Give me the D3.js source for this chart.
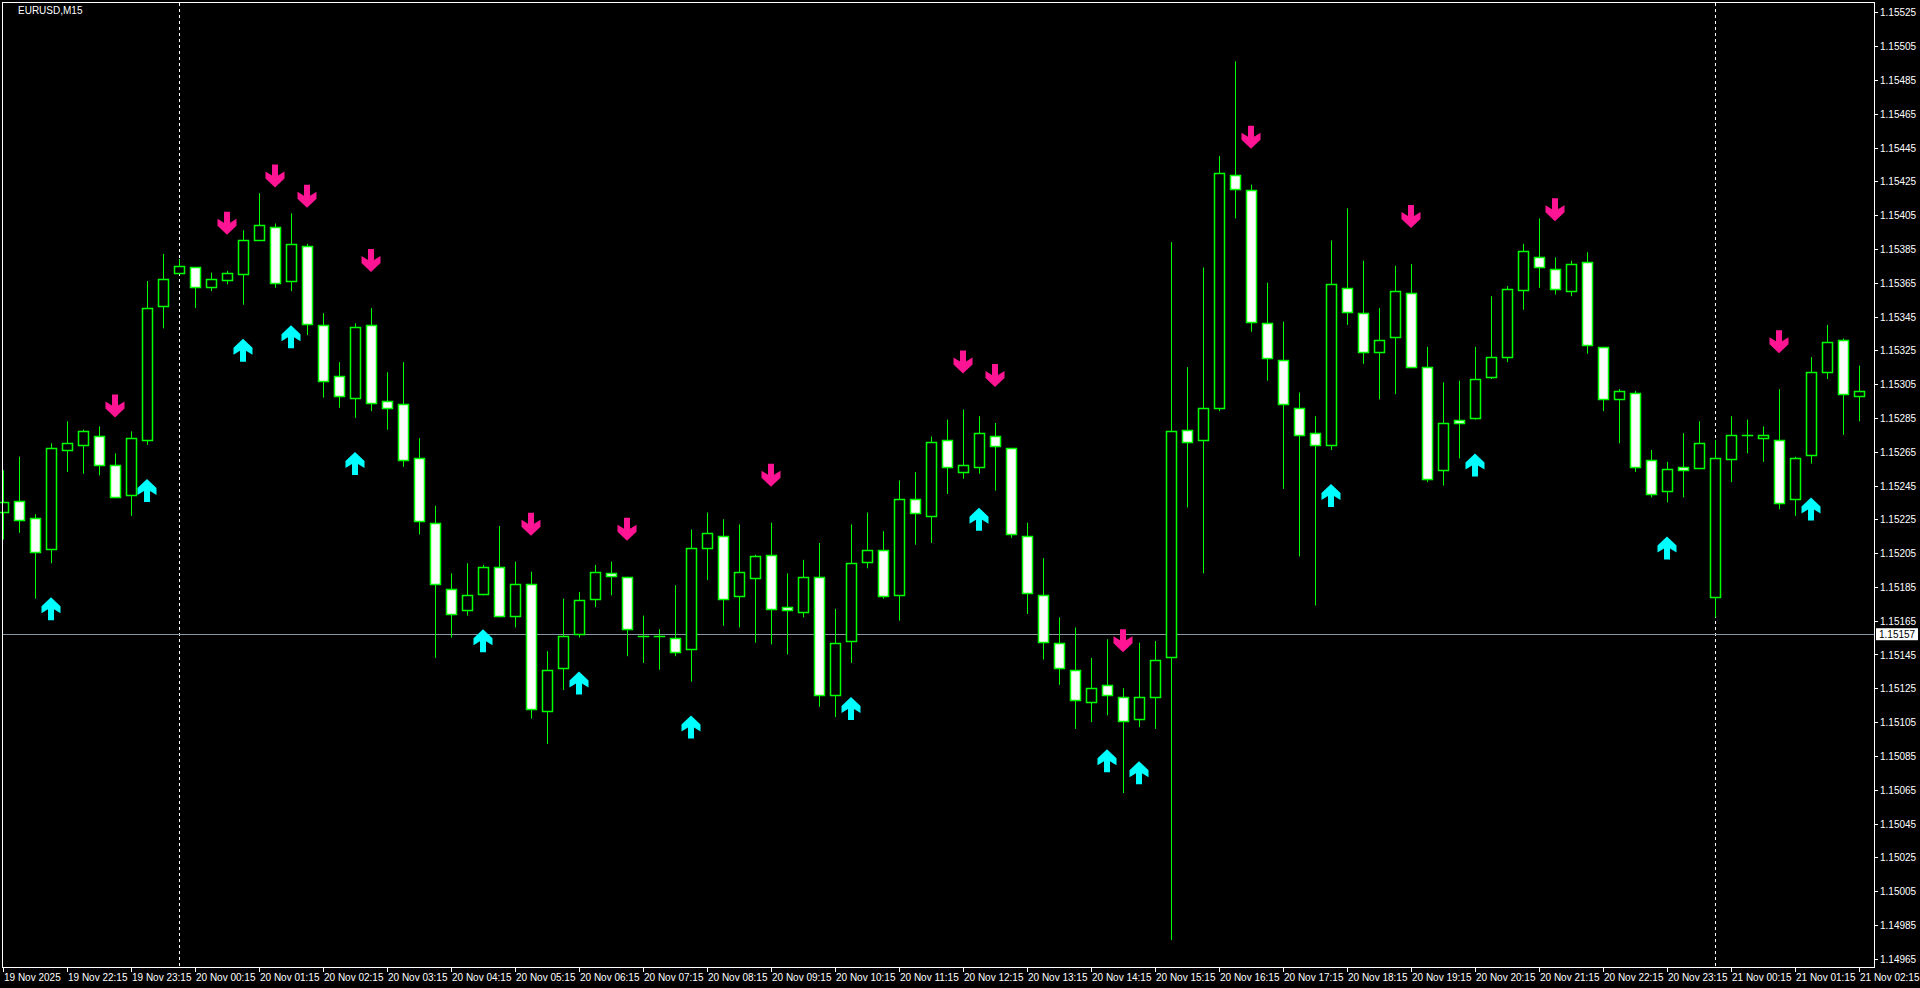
<!DOCTYPE html>
<html>
<head>
<meta charset="utf-8">
<script src="https://cdn.jsdelivr.net/npm/d3@7"></script>
<style>
  html, body { margin: 0; padding: 0; background: #000; overflow: hidden; }
  svg { display: block; }
  text { font-family: "Liberation Sans", Arial, sans-serif; font-size: 10px; fill: #fff; }
</style>
</head>
<body>
<svg id="chart" width="1920" height="988"></svg>
<script>
var symbol = 'EURUSD,M15';
var currentPrice = 1.15157;

var opens = [1.15229,1.15236,1.15226,1.15207,1.15266,1.15269,1.15274,1.15257,1.15239,1.15272,
  1.15351,1.15371,1.15374,1.15362,1.15367,1.15370,1.15390,1.15398,1.15366,1.15387,
  1.15340,1.15310,1.15297,1.15340,1.15295,1.15293,1.15261,1.15223,1.15184,1.15171,
  1.15181,1.15197,1.15168,1.15187,1.15112,1.15137,1.15157,1.15178,1.15193,1.15191,
  1.15156,1.15156,1.15155,1.15148,1.15208,1.15215,1.15180,1.15190,1.15204,1.15173,
  1.15170,1.15191,1.15121,1.15153,1.15200,1.15207,1.15180,1.15237,1.15227,1.15272,
  1.15253,1.15256,1.15274,1.15267,1.15215,1.15180,1.15152,1.15136,1.15117,1.15127,
  1.15120,1.15107,1.15120,1.15143,1.15278,1.15272,1.15291,1.15429,1.15420,1.15341,
  1.15319,1.15291,1.15276,1.15269,1.15362,1.15347,1.15324,1.15333,1.15359,1.15315,
  1.15254,1.15284,1.15285,1.15309,1.15321,1.15361,1.15380,1.15373,1.15360,1.15377,
  1.15327,1.15296,1.15300,1.15260,1.15242,1.15256,1.15255,1.15179,1.15261,1.15275,
  1.15273,1.15272,1.15237,1.15263,1.15312,1.15331,1.15298];
var closes = [1.15235,1.15225,1.15206,1.15267,1.15270,1.15277,1.15257,1.15238,1.15273,1.15350,
  1.15367,1.15375,1.15362,1.15367,1.15371,1.15390,1.15399,1.15365,1.15388,1.15341,
  1.15307,1.15298,1.15339,1.15294,1.15291,1.15260,1.15224,1.15187,1.15169,1.15180,
  1.15197,1.15168,1.15187,1.15113,1.15136,1.15156,1.15177,1.15194,1.15191,1.15160,
  1.15156,1.15156,1.15147,1.15208,1.15217,1.15178,1.15194,1.15203,1.15172,1.15171,
  1.15191,1.15121,1.15152,1.15199,1.15207,1.15180,1.15237,1.15229,1.15271,1.15256,
  1.15257,1.15276,1.15268,1.15216,1.15181,1.15152,1.15137,1.15118,1.15125,1.15121,
  1.15106,1.15120,1.15142,1.15277,1.15271,1.15291,1.15430,1.15421,1.15342,1.15320,
  1.15293,1.15275,1.15269,1.15364,1.15348,1.15324,1.15331,1.15360,1.15315,1.15249,
  1.15282,1.15282,1.15308,1.15321,1.15361,1.15384,1.15374,1.15361,1.15376,1.15328,
  1.15296,1.15301,1.15256,1.15240,1.15255,1.15254,1.15270,1.15261,1.15275,1.15275,
  1.15275,1.15235,1.15261,1.15312,1.15330,1.15299,1.15301];
var highs = [1.15254,1.15262,1.15228,1.15270,1.15283,1.15278,1.15280,1.15264,1.15277,1.15366,
  1.15382,1.15379,1.15374,1.15371,1.15372,1.15396,1.15418,1.15400,1.15406,1.15388,
  1.15347,1.15318,1.15341,1.15350,1.15312,1.15318,1.15273,1.15233,1.15193,1.15199,
  1.15198,1.15221,1.15200,1.15194,1.15147,1.15178,1.15182,1.15198,1.15200,1.15191,
  1.15168,1.15160,1.15186,1.15219,1.15229,1.15225,1.15222,1.15204,1.15223,1.15193,
  1.15201,1.15211,1.15172,1.15222,1.15229,1.15218,1.15248,1.15253,1.15274,1.15284,
  1.15290,1.15286,1.15282,1.15267,1.15223,1.15202,1.15167,1.15161,1.15143,1.15154,
  1.15125,1.15152,1.15153,1.15389,1.15315,1.15374,1.15440,1.15496,1.15423,1.15365,
  1.15342,1.15300,1.15286,1.15390,1.15409,1.15378,1.15350,1.15375,1.15376,1.15327,
  1.15306,1.15307,1.15327,1.15357,1.15363,1.15388,1.15403,1.15380,1.15378,1.15383,
  1.15327,1.15302,1.15301,1.15266,1.15259,1.15276,1.15283,1.15272,1.15286,1.15284,
  1.15280,1.15302,1.15262,1.15321,1.15340,1.15332,1.15316];
var lows = [1.15213,1.15217,1.15178,1.15199,1.15253,1.15252,1.15251,1.15238,1.15227,1.15269,
  1.15338,1.15371,1.15350,1.15360,1.15364,1.15352,1.15390,1.15362,1.15360,1.15334,
  1.15297,1.15291,1.15285,1.15289,1.15278,1.15256,1.15216,1.15143,1.15155,1.15168,
  1.15180,1.15167,1.15161,1.15107,1.15092,1.15124,1.15155,1.15173,1.15180,1.15144,
  1.15140,1.15136,1.15144,1.15129,1.15189,1.15162,1.15161,1.15152,1.15151,1.15145,
  1.15167,1.15114,1.15108,1.15140,1.15196,1.15178,1.15165,1.15210,1.15211,1.15240,
  1.15249,1.15252,1.15242,1.15214,1.15169,1.15142,1.15127,1.15101,1.15105,1.15109,
  1.15063,1.15102,1.15101,1.14976,1.15232,1.15193,1.15289,1.15403,1.15336,1.15307,
  1.15243,1.15203,1.15174,1.15266,1.15340,1.15317,1.15296,1.15299,1.15315,1.15247,
  1.15245,1.15261,1.15284,1.15308,1.15318,1.15349,1.15362,1.15358,1.15357,1.15323,
  1.15289,1.15270,1.15253,1.15238,1.15235,1.15238,1.15255,1.15167,1.15247,1.15264,
  1.15259,1.15231,1.15227,1.15258,1.15308,1.15275,1.15283];

// signal bars (indices)
var sellSignals = [7,14,17,19,23,33,39,48,60,62,70,78,88,97,111];
var buySignals = [3,9,15,18,22,30,36,43,53,61,69,71,83,92,104,113];

// time axis labels, one every 4 bars from bar 0
var timeLabels = ['19 Nov 2025','19 Nov 22:15','19 Nov 23:15','20 Nov 00:15','20 Nov 01:15',
  '20 Nov 02:15','20 Nov 03:15','20 Nov 04:15','20 Nov 05:15','20 Nov 06:15','20 Nov 07:15',
  '20 Nov 08:15','20 Nov 09:15','20 Nov 10:15','20 Nov 11:15','20 Nov 12:15','20 Nov 13:15',
  '20 Nov 14:15','20 Nov 15:15','20 Nov 16:15','20 Nov 17:15','20 Nov 18:15','20 Nov 19:15',
  '20 Nov 20:15','20 Nov 21:15','20 Nov 22:15','20 Nov 23:15','21 Nov 00:15','21 Nov 01:15',
  '21 Nov 02:15'];
var daySeparators = [11, 107];
var priceTicks = d3.range(0, 29).map(function(k) { return +(1.14965 + k * 0.0002).toFixed(5); });

var svg = d3.select('#chart');
var plotRight = 1874, plotBottom = 967;

var x = d3.scaleLinear().domain([0, 116]).range([3, 1859]);
var y = d3.scaleLinear().domain([1.14965, 1.15525]).range([958.7, 12.3]);

var bars = opens.map(function(o, i) {
  return {i: i, o: o, c: closes[i], h: highs[i], l: lows[i]};
});

// day separators
svg.selectAll('.sep').data(daySeparators).enter().append('line')
  .attr('x1', function(d) { return Math.round(x(d)) + 0.5; })
  .attr('x2', function(d) { return Math.round(x(d)) + 0.5; })
  .attr('y1', 3).attr('y2', plotBottom)
  .attr('stroke', '#fff').attr('stroke-dasharray', '3,3');

// current price line
svg.append('line')
  .attr('x1', 3).attr('x2', plotRight)
  .attr('y1', Math.round(y(currentPrice)) + 0.5).attr('y2', Math.round(y(currentPrice)) + 0.5)
  .attr('stroke', '#8a96a3');

var candles = svg.append('g');
candles.selectAll('.wick').data(bars).enter().append('line')
  .attr('x1', function(d) { return Math.round(x(d.i)) + 0.5; })
  .attr('x2', function(d) { return Math.round(x(d.i)) + 0.5; })
  .attr('y1', function(d) { return y(d.h); })
  .attr('y2', function(d) { return y(d.l); })
  .attr('stroke', '#00ff00');

candles.selectAll('.body').data(bars).enter().append('rect')
  .attr('x', function(d) { return Math.round(x(d.i)) - 4.5; })
  .attr('width', 10)
  .attr('y', function(d) { return Math.round(y(Math.max(d.o, d.c))) + 0.5; })
  .attr('height', function(d) { return Math.max(0.01, Math.round(Math.abs(y(d.o) - y(d.c)))); })
  .attr('fill', function(d) { return d.c >= d.o ? '#000' : '#fff'; })
  .attr('stroke', '#00ff00').attr('stroke-width', 1.5);

// arrows
var downPath = 'M-3,-23 L3,-23 L3,-12 L9.5,-16 L9.5,-9 L0,0 L-9.5,-9 L-9.5,-16 L-3,-12 Z';
svg.selectAll('.sell').data(sellSignals).enter().append('path')
  .attr('d', downPath).attr('fill', '#ff1493')
  .attr('transform', function(i) { return 'translate(' + x(i) + ',' + (y(highs[i]) - 36) + ')'; });
svg.selectAll('.buy').data(buySignals).enter().append('path')
  .attr('d', downPath).attr('fill', '#00ffff')
  .attr('transform', function(i) { return 'translate(' + x(i) + ',' + (y(lows[i]) + 34) + ') scale(1,-1)'; });

// frame
svg.append('rect').attr('x', 2.5).attr('y', 2.5)
  .attr('width', plotRight - 2).attr('height', plotBottom - 2)
  .attr('fill', 'none').attr('stroke', '#fff');

// price axis
var pa = svg.append('g');
pa.selectAll('line').data(priceTicks).enter().append('line')
  .attr('x1', plotRight).attr('x2', plotRight + 4)
  .attr('y1', function(d) { return Math.round(y(d)) + 0.5; })
  .attr('y2', function(d) { return Math.round(y(d)) + 0.5; })
  .attr('stroke', '#fff');
pa.selectAll('text').data(priceTicks).enter().append('text')
  .attr('x', 1880).attr('y', function(d) { return y(d) + 4; })
  .text(function(d) { return d.toFixed(5); });

svg.append('rect').attr('x', 1876).attr('y', y(currentPrice) - 6)
  .attr('width', 42).attr('height', 12).attr('fill', '#fff');
svg.append('text').attr('x', 1879).attr('y', y(currentPrice) + 4)
  .style('fill', '#000').text(currentPrice.toFixed(5));

// time axis
var ta = svg.append('g');
ta.selectAll('line').data(timeLabels).enter().append('line')
  .attr('x1', function(d, k) { return Math.round(x(k * 4)) + 0.5; })
  .attr('x2', function(d, k) { return Math.round(x(k * 4)) + 0.5; })
  .attr('y1', plotBottom).attr('y2', plotBottom + 5)
  .attr('stroke', '#fff');
ta.selectAll('text').data(timeLabels).enter().append('text')
  .attr('x', function(d, k) { return x(k * 4) + 1; })
  .attr('y', 981)
  .text(function(d) { return d; });

svg.append('text').attr('x', 18).attr('y', 14).text(symbol);
</script>
</body>
</html>
